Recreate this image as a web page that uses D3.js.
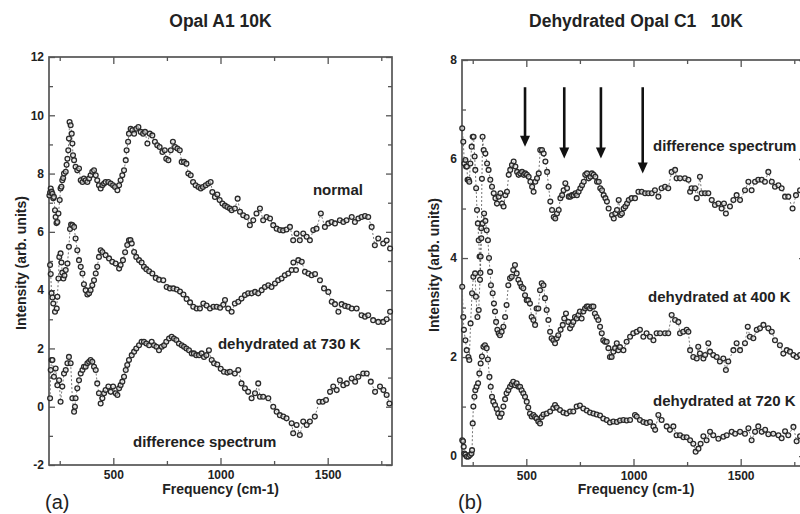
<!DOCTYPE html>
<html lang="en">
<head>
<meta charset="UTF-8">
<title>Opal spectra</title>
<script src="https://cdnjs.cloudflare.com/ajax/libs/d3/7.8.5/d3.min.js"></script>
<style>
  body { margin: 0; background: #fff; }
  text { font-family: "Liberation Sans", Arial, Helvetica, sans-serif; fill: #222; }
  .tick text { font-weight: bold; font-size: 12px; fill: #222; }
  .tick line { stroke: #555; stroke-width: 1.3; }
  .note { font-weight: bold; font-size: 15px; }
  .ttl { font-weight: bold; font-size: 17.5px; }
  .lab { font-weight: bold; font-size: 14px; }
  .tag { font-size: 20px; }
</style>
</head>
<body>
<div id="chart"></div>
<script>

// [frequency (cm-1), intensity]
var normalA = [[202,7.25],[205,7.35],[208,7.49],[212,7.38],[216,7.31],[220,7.15],[223,7.2],[228,6.74],[231,6.51],[235,6.3],[239,6.34],[244,6.63],[250,7.09],[254,7.49],[258,7.55],[262,7.77],[266,7.85],[270,8.0],[278,8.06],[282,8.3],[286,8.51],[290,8.8],[293,9.2],[296,9.77],[301,9.66],[306,9.37],[309,9.03],[312,8.63],[317,8.46],[324,8.23],[332,8.11],[340,8.17],[348,7.77],[356,7.71],[363,7.83],[371,7.77],[379,7.71],[387,7.83],[394,7.94],[402,8.06],[410,8.11],[418,7.94],[425,7.77],[433,7.6],[441,7.49],[449,7.6],[457,7.66],[464,7.71],[477,7.71],[488,7.66],[499,7.6],[508,7.54],[519,7.43],[527,7.6],[534,7.77],[542,7.94],[550,8.11],[558,8.46],[562,8.8],[569,9.09],[573,9.37],[581,9.54],[589,9.49],[597,9.37],[607,9.54],[617,9.6],[628,9.43],[639,9.37],[648,9.43],[659,9.03],[670,9.37],[682,9.31],[694,9.09],[705,8.97],[716,8.91],[729,8.74],[740,8.8],[747,8.51],[757,8.46],[768,8.8],[778,9.09],[788,8.91],[799,8.86],[810,8.8],[819,8.4],[830,8.4],[841,8.34],[850,8.0],[861,7.94],[872,7.71],[884,7.6],[897,7.54],[908,7.49],[918,7.54],[931,7.6],[943,7.66],[954,7.71],[962,7.37],[974,7.2],[985,7.28],[996,7.09],[1009,6.97],[1021,6.9],[1032,6.85],[1044,6.8],[1052,6.74],[1067,6.8],[1080,7.14],[1091,6.69],[1106,6.57],[1122,6.51],[1137,6.23],[1153,6.4],[1168,6.63],[1184,6.8],[1199,6.4],[1215,6.51],[1231,6.46],[1246,6.23],[1262,6.11],[1277,6.06],[1292,6.05],[1308,6.08],[1324,6.17],[1339,5.71],[1355,5.94],[1370,5.71],[1386,5.94],[1402,5.83],[1417,5.71],[1433,6.06],[1448,6.11],[1468,6.63],[1487,6.17],[1503,6.29],[1518,6.34],[1534,6.29],[1557,6.4],[1573,6.34],[1588,6.4],[1612,6.51],[1627,6.34],[1643,6.46],[1658,6.51],[1674,6.54],[1689,6.51],[1705,6.17],[1720,5.54],[1736,5.77],[1759,5.6],[1775,5.7],[1791,5.43]];

var dehyd730A = [[205,4.86],[208,4.55],[212,3.89],[216,3.75],[220,3.54],[228,3.26],[236,3.37],[239,3.77],[244,4.4],[248,5.14],[254,5.26],[258,4.95],[262,4.6],[267,4.4],[272,4.5],[278,4.69],[286,4.91],[293,5.49],[298,6.1],[303,6.25],[309,6.23],[317,6.17],[324,5.77],[332,5.37],[340,5.03],[348,4.8],[356,4.57],[363,4.2],[371,4.0],[379,3.85],[387,3.89],[394,4.0],[402,4.17],[410,4.34],[418,4.57],[425,4.8],[433,5.14],[441,5.37],[449,5.31],[464,5.2],[480,5.09],[495,4.97],[511,4.91],[527,4.74],[534,4.86],[545,5.03],[555,5.3],[565,5.55],[573,5.71],[580,5.72],[586,5.6],[597,5.31],[607,5.14],[620,5.03],[632,4.95],[643,4.8],[654,4.72],[667,4.65],[682,4.57],[698,4.42],[713,4.36],[733,4.34],[749,4.11],[764,4.06],[780,4.06],[796,4.02],[811,3.95],[827,3.85],[842,3.7],[858,3.58],[873,3.43],[889,3.37],[904,3.37],[920,3.54],[935,3.47],[951,3.37],[967,3.43],[982,3.43],[998,3.4],[1013,3.5],[1021,3.66],[1036,3.37],[1052,3.26],[1067,3.54],[1083,3.6],[1098,3.71],[1114,3.83],[1129,3.89],[1145,3.89],[1161,3.94],[1176,3.89],[1192,4.0],[1207,4.11],[1223,4.17],[1238,4.11],[1254,4.23],[1269,4.34],[1285,4.4],[1300,4.51],[1316,4.57],[1332,4.69],[1340,4.95],[1352,4.69],[1363,5.03],[1379,4.97],[1394,4.63],[1410,4.57],[1425,4.51],[1441,4.55],[1464,4.34],[1483,4.06],[1503,3.94],[1519,3.6],[1534,3.52],[1550,3.26],[1565,3.52],[1581,3.46],[1596,3.43],[1612,3.37],[1635,3.37],[1658,3.14],[1674,3.09],[1689,3.14],[1712,2.97],[1736,2.91],[1759,2.91],[1775,3.0],[1791,3.26]];

var diffA = [[205,0.29],[208,1.26],[212,1.6],[216,1.6],[223,1.03],[231,1.31],[239,0.74],[247,0.91],[254,0.17],[262,0.69],[270,1.14],[278,1.26],[286,1.49],[293,1.71],[301,1.49],[309,0.29],[317,-0.17],[321,0.0],[324,0.29],[332,0.63],[340,0.91],[348,1.14],[356,1.26],[363,1.37],[371,1.37],[379,1.49],[387,1.54],[394,1.6],[402,1.54],[410,1.37],[418,1.26],[425,0.8],[433,0.46],[441,0.11],[449,0.29],[457,0.46],[464,0.57],[477,0.69],[488,0.51],[499,0.69],[511,0.46],[519,0.4],[527,0.63],[534,0.74],[542,0.86],[550,1.03],[558,1.26],[565,1.43],[573,1.6],[586,1.77],[597,1.89],[607,2.0],[620,2.11],[632,2.23],[643,2.23],[654,2.17],[667,2.11],[679,2.23],[690,2.11],[701,2.06],[713,1.94],[726,2.06],[737,2.11],[747,2.23],[760,2.34],[772,2.4],[783,2.34],[794,2.29],[806,2.17],[819,2.11],[830,2.06],[841,2.0],[853,1.94],[866,1.83],[876,1.83],[887,1.77],[900,1.77],[912,1.83],[923,1.71],[934,1.77],[946,1.94],[959,1.6],[970,1.49],[985,1.45],[1001,1.3],[1016,1.2],[1032,1.17],[1044,1.2],[1067,1.14],[1083,1.26],[1098,0.8],[1114,0.63],[1129,0.51],[1145,0.29],[1161,0.46],[1176,0.8],[1184,0.34],[1199,0.34],[1223,0.29],[1246,0.0],[1262,-0.17],[1277,-0.29],[1293,-0.34],[1308,-0.4],[1332,-0.57],[1339,-0.91],[1355,-0.63],[1370,-0.97],[1386,-0.51],[1402,-0.63],[1417,-0.51],[1440,-0.34],[1461,0.17],[1477,0.17],[1492,0.23],[1511,0.51],[1526,0.69],[1542,0.57],[1557,0.91],[1573,0.74],[1589,0.8],[1612,0.97],[1628,0.86],[1643,1.03],[1666,1.14],[1682,1.14],[1701,0.86],[1721,0.51],[1744,0.69],[1760,0.57],[1775,0.4],[1788,0.11]];

var diffB = [[201,6.62],[206,6.35],[211,5.91],[216,5.98],[219,5.85],[223,5.85],[226,5.58],[231,5.58],[234,5.54],[239,5.91],[245,6.25],[250,6.45],[254,6.45],[259,6.05],[262,5.78],[266,5.41],[270,4.97],[274,4.7],[278,4.36],[282,4.03],[286,3.7],[290,4.6],[293,5.6],[296,6.45],[301,6.18],[309,6.11],[317,5.91],[324,5.78],[332,5.58],[340,5.44],[348,5.31],[356,5.21],[363,5.1],[371,5.24],[379,5.31],[387,5.1],[394,5.04],[402,5.27],[410,5.34],[418,5.68],[425,5.78],[433,5.88],[441,5.95],[449,5.85],[457,5.74],[464,5.68],[472,5.71],[480,5.74],[488,5.68],[495,5.71],[503,5.68],[511,5.64],[519,5.54],[527,5.44],[534,5.34],[542,5.54],[550,5.61],[558,5.71],[565,6.18],[573,6.18],[581,6.11],[589,5.95],[597,5.74],[604,5.44],[612,5.14],[620,4.97],[628,4.83],[635,4.8],[643,4.9],[651,4.97],[659,5.21],[667,5.27],[674,5.37],[682,5.51],[690,5.41],[698,5.24],[705,5.24],[713,5.27],[721,5.27],[729,5.31],[736,5.27],[744,5.34],[752,5.41],[760,5.47],[768,5.54],[775,5.68],[783,5.71],[791,5.61],[799,5.64],[806,5.71],[814,5.68],[822,5.64],[830,5.54],[838,5.54],[845,5.41],[853,5.37],[861,5.27],[869,5.21],[876,5.14],[884,5.0],[900,4.87],[908,4.8],[915,4.9],[923,4.97],[931,5.17],[939,4.87],[946,4.9],[954,5.0],[962,5.04],[970,5.1],[978,5.17],[991,5.21],[1007,5.21],[1023,5.34],[1038,5.34],[1054,5.31],[1069,5.31],[1085,5.31],[1100,5.37],[1116,5.24],[1131,5.41],[1147,5.44],[1162,5.41],[1178,5.74],[1194,5.78],[1201,5.61],[1217,5.61],[1240,5.61],[1256,5.58],[1264,5.34],[1271,5.41],[1287,5.41],[1295,5.21],[1310,5.64],[1318,5.31],[1334,5.31],[1349,5.31],[1365,5.17],[1380,5.07],[1396,5.1],[1411,5.0],[1422,5.1],[1431,4.9],[1450,5.04],[1466,5.17],[1481,5.27],[1497,5.17],[1520,5.37],[1536,5.54],[1551,5.37],[1567,5.54],[1582,5.58],[1598,5.58],[1613,5.54],[1629,5.74],[1645,5.54],[1660,5.44],[1676,5.47],[1691,5.41],[1707,5.24],[1722,5.24],[1742,5.0],[1758,5.27],[1777,5.37]];

var dehyd400B = [[201,3.42],[206,2.81],[209,2.55],[216,2.34],[222,2.14],[230,2.0],[234,1.94],[240,2.68],[247,3.29],[253,3.62],[261,3.69],[265,3.22],[272,2.81],[278,2.95],[284,3.56],[287,4.03],[290,4.4],[296,4.7],[303,4.9],[309,4.75],[315,4.56],[321,4.36],[326,4.0],[331,3.72],[335,3.45],[343,3.29],[349,3.08],[354,2.92],[359,2.71],[365,2.55],[371,2.48],[377,2.44],[385,2.51],[393,2.61],[401,2.81],[408,3.05],[416,3.45],[424,3.59],[432,3.62],[439,3.76],[447,3.86],[455,3.69],[463,3.56],[471,3.49],[478,3.42],[486,3.39],[494,3.25],[502,3.15],[509,3.15],[517,3.08],[525,2.81],[533,2.75],[541,2.65],[548,2.98],[556,2.98],[564,3.35],[572,3.49],[580,3.45],[587,3.19],[595,2.95],[603,2.75],[611,2.51],[618,2.38],[626,2.34],[634,2.28],[642,2.38],[649,2.44],[660,2.55],[670,2.65],[677,2.78],[685,2.88],[696,2.71],[704,2.58],[712,2.65],[719,2.71],[727,2.81],[735,2.78],[743,2.85],[750,2.92],[758,2.78],[766,2.92],[774,2.98],[782,3.02],[789,3.02],[797,2.98],[805,3.02],[813,3.02],[820,2.88],[828,2.81],[836,2.75],[844,2.61],[852,2.48],[859,2.34],[867,2.31],[875,2.31],[883,2.18],[890,2.0],[898,2.0],[906,2.11],[914,2.18],[922,2.28],[929,2.14],[937,2.2],[953,2.14],[968,2.31],[984,2.41],[999,2.48],[1015,2.51],[1030,2.55],[1046,2.41],[1061,2.48],[1077,2.41],[1093,2.34],[1108,2.48],[1124,2.48],[1147,2.48],[1162,2.48],[1178,2.85],[1194,2.75],[1209,2.71],[1217,2.48],[1232,2.51],[1248,2.55],[1256,2.51],[1264,2.14],[1279,2.0],[1295,1.97],[1302,2.21],[1310,2.07],[1326,1.97],[1334,2.04],[1349,2.28],[1357,2.11],[1372,2.04],[1388,2.0],[1403,1.91],[1419,1.97],[1431,1.74],[1442,1.91],[1466,2.14],[1481,2.28],[1497,2.14],[1520,2.28],[1533,2.61],[1543,2.41],[1559,2.38],[1575,2.55],[1590,2.58],[1606,2.65],[1629,2.58],[1645,2.51],[1660,2.34],[1683,2.24],[1699,2.07],[1715,2.14],[1730,2.11],[1746,2.04],[1761,2.0],[1777,2.04]];

var dehyd720B = [[201,0.32],[205,0.3],[208,0.19],[211,0.05],[216,0.03],[222,-0.01],[230,-0.01],[237,0.02],[244,0.05],[247,0.12],[250,0.66],[253,1.0],[258,1.2],[262,1.33],[268,1.4],[275,1.47],[281,1.67],[287,1.87],[293,2.01],[300,2.21],[307,2.24],[315,2.18],[321,1.95],[328,1.6],[334,1.4],[340,1.2],[346,1.1],[354,1.03],[362,0.95],[369,0.86],[377,0.79],[385,0.86],[393,1.0],[401,1.15],[408,1.27],[416,1.33],[424,1.4],[432,1.45],[439,1.5],[447,1.43],[455,1.47],[463,1.4],[471,1.4],[478,1.33],[486,1.27],[494,1.2],[502,1.1],[509,0.98],[517,0.86],[525,0.8],[533,0.83],[541,0.79],[548,0.76],[556,0.7],[564,0.66],[572,0.79],[580,0.84],[595,0.86],[611,0.9],[626,0.97],[634,1.03],[642,0.98],[657,0.93],[673,0.88],[688,0.86],[704,0.9],[719,0.9],[735,1.0],[750,1.02],[766,0.96],[782,0.92],[797,0.88],[813,0.86],[828,0.84],[844,0.82],[859,0.76],[875,0.73],[890,0.68],[906,0.7],[922,0.69],[937,0.72],[953,0.73],[968,0.72],[984,0.73],[1007,0.83],[1015,0.8],[1030,0.73],[1046,0.69],[1061,0.67],[1077,0.69],[1093,0.6],[1101,0.53],[1116,0.83],[1131,0.73],[1155,0.6],[1170,0.53],[1186,0.6],[1201,0.42],[1217,0.42],[1233,0.38],[1248,0.38],[1264,0.32],[1279,0.25],[1290,0.09],[1303,0.15],[1313,0.25],[1326,0.4],[1341,0.32],[1357,0.49],[1372,0.42],[1396,0.35],[1419,0.39],[1435,0.42],[1458,0.49],[1474,0.45],[1497,0.49],[1520,0.45],[1536,0.56],[1551,0.32],[1567,0.49],[1582,0.6],[1598,0.49],[1614,0.53],[1629,0.44],[1652,0.45],[1676,0.42],[1691,0.36],[1707,0.5],[1722,0.42],[1746,0.59],[1761,0.3],[1777,0.4]];

// axes
var freqDomain = [200, 1800];
var xMajor = [500, 1000, 1500];
var xMinor = [250, 750, 1250, 1750];
var yMajorA = [-2, 0, 2, 4, 6, 8, 10, 12];
var yMinorA = [-1, 1, 3, 5, 7, 9, 11];
var yMajorB = [0, 2, 4, 6, 8];
var yMinorB = [1, 3, 5, 7];

// annotations [text, frequency, intensity]
var notesA = [["normal", 1431, 7.26], ["dehydrated at 730 K", 988, 1.98], ["difference spectrum", 592, -1.38]];
var notesB = [["difference spectrum", 1091, 6.16], ["dehydrated at 400 K", 1068, 3.11], ["dehydrated at 720 K", 1091, 1.01]];

// arrows [frequency, from, to]
var arrowsB = [[494, 7.45, 6.25], [677, 7.45, 6.01], [848, 7.45, 6.01], [1043, 7.45, 5.71]];

var svg = d3.select("#chart").append("svg")
  .attr("width", 800)
  .attr("height", 514);

var panels = [
  { left: 49, right: 392, top: 57, bottom: 465, yDomain: [-2, 12],
    yMajor: yMajorA, yMinor: yMinorA, title: "Opal A1 10K",
    series: [normalA, dehyd730A, diffA], notes: notesA, arrows: [], tag: "(a)" },
  { left: 462, right: 805, top: 60, bottom: 466, yDomain: [-0.2, 8],
    yMajor: yMajorB, yMinor: yMinorB, title: "Dehydrated Opal C1\u00a0\u00a0\u00a010K",
    series: [diffB, dehyd400B, dehyd720B], notes: notesB, arrows: arrowsB, tag: "(b)" }
];

panels.forEach(drawPanel);

function drawPanel(p) {
  var x = d3.scaleLinear().domain(freqDomain).range([p.left, p.right]);
  var y = d3.scaleLinear().domain(p.yDomain).range([p.bottom, p.top]);
  var g = svg.append("g");
  var fmt = function(d) { return String(d); };

  // ticks point inwards on all four sides
  g.append("g").attr("transform", "translate(0," + p.bottom + ")")
    .call(d3.axisBottom(x).tickValues(xMinor).tickSize(-4).tickFormat(""));
  g.append("g").attr("transform", "translate(0," + p.bottom + ")")
    .call(d3.axisBottom(x).tickValues(xMajor).tickSize(-7).tickPadding(5).tickFormat(fmt));
  g.append("g").attr("transform", "translate(0," + p.top + ")")
    .call(d3.axisTop(x).tickValues(xMinor).tickSize(-4).tickFormat(""));
  g.append("g").attr("transform", "translate(0," + p.top + ")")
    .call(d3.axisTop(x).tickValues(xMajor).tickSize(-7).tickFormat(""));
  g.append("g").attr("transform", "translate(" + p.left + ",0)")
    .call(d3.axisLeft(y).tickValues(p.yMinor).tickSize(-4).tickFormat(""));
  g.append("g").attr("transform", "translate(" + p.left + ",0)")
    .call(d3.axisLeft(y).tickValues(p.yMajor).tickSize(-6).tickPadding(5).tickFormat(fmt));
  g.append("g").attr("transform", "translate(" + p.right + ",0)")
    .call(d3.axisRight(y).tickValues(p.yMinor).tickSize(-4).tickFormat(""));
  g.append("g").attr("transform", "translate(" + p.right + ",0)")
    .call(d3.axisRight(y).tickValues(p.yMajor).tickSize(-6).tickFormat(""));
  g.selectAll(".domain").remove();

  g.append("rect")
    .attr("x", p.left).attr("y", p.top)
    .attr("width", p.right - p.left).attr("height", p.bottom - p.top)
    .attr("fill", "none").attr("stroke", "#555").attr("stroke-width", 1.7);

  var line = d3.line().x(function(d) { return x(d[0]); }).y(function(d) { return y(d[1]); });

  p.series.forEach(function(s) {
    g.append("path")
      .datum(s)
      .attr("d", line)
      .attr("fill", "none")
      .attr("stroke", "#666")
      .attr("stroke-width", 0.9)
      .attr("stroke-dasharray", "2,2");
    g.selectAll(null)
      .data(s)
      .enter()
      .append("circle")
      .attr("cx", function(d) { return x(d[0]); })
      .attr("cy", function(d) { return y(d[1]); })
      .attr("r", 2.4)
      .attr("fill", "rgba(235,235,235,0.6)")
      .attr("stroke", "#2a2a2a")
      .attr("stroke-width", 1.3);
  });

  p.notes.forEach(function(n) {
    g.append("text").attr("class", "note")
      .attr("x", x(n[1])).attr("y", y(n[2]))
      .text(n[0]);
  });

  p.arrows.forEach(function(a) {
    var ax = x(a[0]), tip = y(a[2]);
    g.append("line")
      .attr("x1", ax).attr("x2", ax)
      .attr("y1", y(a[1])).attr("y2", tip - 8)
      .attr("stroke", "#111").attr("stroke-width", 2.6);
    g.append("path")
      .attr("d", "M" + (ax - 5) + "," + (tip - 11) + "L" + (ax + 5) + "," + (tip - 11) + "L" + ax + "," + tip + "Z")
      .attr("fill", "#111");
  });

  var cx = (p.left + p.right) / 2;
  if (p.right > 800) cx = 636;
  svg.append("text").attr("class", "ttl")
    .attr("x", cx).attr("y", 27).attr("text-anchor", "middle")
    .text(p.title);

  svg.append("text").attr("class", "lab")
    .attr("x", cx).attr("y", 494).attr("text-anchor", "middle")
    .text("Frequency (cm-1)");

  svg.append("text").attr("class", "lab")
    .attr("transform", "translate(" + (p.left - 23) + "," + ((p.top + p.bottom) / 2 + 2) + ") rotate(-90)")
    .attr("text-anchor", "middle")
    .text("Intensity (arb. units)");

  svg.append("text").attr("class", "tag")
    .attr("x", p.left - 4).attr("y", 509)
    .text(p.tag);
}
</script>
</body>
</html>
